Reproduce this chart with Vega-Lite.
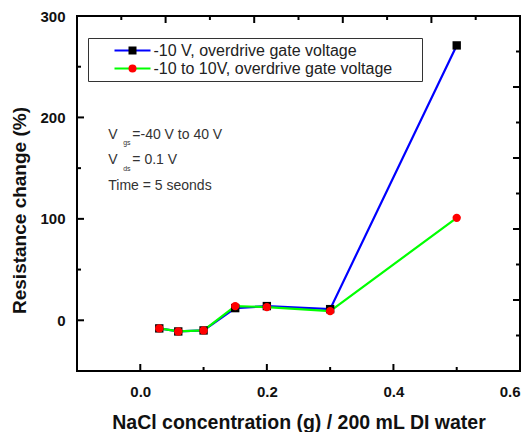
{
  "$schema": "https://vega.github.io/schema/vega-lite/v6.json",
  "width": 443,
  "height": 355,
  "autosize": "none",
  "padding": {"left": 77, "top": 16, "right": 12, "bottom": 61},
  "background": "white",
  "config": {
    "view": {"stroke": "#000000", "strokeWidth": 2},
    "font": "Liberation Sans",
    "axis": {
      "domain": false,
      "grid": false,
      "ticks": false,
      "labelFont": "Liberation Sans",
      "labelFontWeight": "bold",
      "labelFontSize": 15,
      "labelColor": "#111111",
      "titleFont": "Liberation Sans",
      "titleFontWeight": "bold",
      "titleColor": "#111111"
    }
  },
  "datasets": {
    "measurements": [
      {"series": "-10 V, overdrive gate voltage", "conc": 0.03, "change": -8},
      {"series": "-10 V, overdrive gate voltage", "conc": 0.06, "change": -11},
      {"series": "-10 V, overdrive gate voltage", "conc": 0.1, "change": -10},
      {"series": "-10 V, overdrive gate voltage", "conc": 0.15, "change": 12},
      {"series": "-10 V, overdrive gate voltage", "conc": 0.2, "change": 14},
      {"series": "-10 V, overdrive gate voltage", "conc": 0.3, "change": 11},
      {"series": "-10 V, overdrive gate voltage", "conc": 0.5, "change": 271},
      {"series": "-10 to 10V, overdrive gate voltage", "conc": 0.03, "change": -8},
      {"series": "-10 to 10V, overdrive gate voltage", "conc": 0.06, "change": -11},
      {"series": "-10 to 10V, overdrive gate voltage", "conc": 0.1, "change": -10},
      {"series": "-10 to 10V, overdrive gate voltage", "conc": 0.15, "change": 14},
      {"series": "-10 to 10V, overdrive gate voltage", "conc": 0.2, "change": 13},
      {"series": "-10 to 10V, overdrive gate voltage", "conc": 0.3, "change": 9},
      {"series": "-10 to 10V, overdrive gate voltage", "conc": 0.5, "change": 101}
    ],
    "ticks_bottom_major": [{"v": 0}, {"v": 0.2}, {"v": 0.4}],
    "ticks_bottom_minor": [{"v": 0.1}, {"v": 0.3}, {"v": 0.5}],
    "ticks_top_major": [{"v": 0.04}, {"v": 0.18}, {"v": 0.32}, {"v": 0.46}],
    "ticks_top_minor": [{"v": -0.03}, {"v": 0.11}, {"v": 0.25}, {"v": 0.39}, {"v": 0.53}],
    "ticks_left_major": [{"v": 0}, {"v": 100}, {"v": 200}],
    "ticks_left_minor": [{"v": 50}, {"v": 150}, {"v": 250}],
    "ticks_right_major": [{"v": 20}, {"v": 90}, {"v": 160}, {"v": 230}],
    "ticks_right_minor": [{"v": -15}, {"v": 55}, {"v": 125}, {"v": 195}, {"v": 265}]
  },
  "resolve": {"axis": {"x": "independent", "y": "independent"}},
  "layer": [
    {
      "data": {"name": "measurements"},
      "mark": {"type": "line", "strokeWidth": 2.2},
      "encoding": {
        "x": {
          "field": "conc", "type": "quantitative",
          "scale": {"domain": [-0.1, 0.6], "nice": false, "zero": false},
          "axis": {
            "orient": "bottom", "values": [0, 0.2, 0.4, 0.6], "format": ".1f",
            "labelPadding": 13,
            "title": "NaCl concentration (g) / 200 mL DI water",
            "titleFontSize": 19.5,
            "titleBaseline": "alphabetic", "titleY": 57
          }
        },
        "y": {
          "field": "change", "type": "quantitative",
          "scale": {"domain": [-50, 300], "nice": false, "zero": false},
          "axis": {
            "orient": "left", "values": [0, 100, 200, 300], "format": "d",
            "labelPadding": 12,
            "title": "Resistance change (%)",
            "titleFontSize": 19,
            "titleAngle": 270, "titleAlign": "center", "titleBaseline": "middle",
            "titleX": -58, "titleY": 194
          }
        },
        "stroke": {
          "field": "series", "type": "nominal",
          "scale": {"range": ["#0000ff", "#00ff00"]},
          "legend": {
            "orient": "none", "legendX": 11, "legendY": 22,
            "title": " ", "titleOrient": "right", "titlePadding": 25, "titleColor": "transparent",
            "padding": 4.5,
            "strokeColor": "#333333",
            "symbolType": "M-4.5,0H4.5", "symbolSize": 64, "symbolStrokeWidth": 2,
            "symbolOffset": 32, "labelOffset": 13,
            "rowPadding": 2,
            "labelFont": "Liberation Sans", "labelFontSize": 16, "labelColor": "#222222",
            "labelLimit": 400
          }
        }
      }
    },
    {
      "data": {"name": "measurements"},
      "mark": {"type": "point", "filled": true, "opacity": 1, "strokeWidth": 0, "size": 70},
      "encoding": {
        "x": {"field": "conc", "type": "quantitative", "axis": null},
        "y": {"field": "change", "type": "quantitative", "axis": null},
        "fill": {
          "field": "series", "type": "nominal",
          "scale": {"domain": ["-10 V, overdrive gate voltage", "-10 to 10V, overdrive gate voltage"], "range": ["#000000", "#ff0000"]},
          "legend": {
            "orient": "none", "legendX": 11, "legendY": 22,
            "title": null, "padding": 4.5,
            "symbolSize": 64, "symbolStrokeWidth": 0, "symbolOffset": 32,
            "rowPadding": 2,
            "labelFontSize": 16, "labelColor": "transparent"
          }
        },
        "shape": {
          "field": "series", "type": "nominal",
          "scale": {"domain": ["-10 V, overdrive gate voltage", "-10 to 10V, overdrive gate voltage"], "range": ["square", "circle"]},
          "legend": {
            "orient": "none", "legendX": 11, "legendY": 22,
            "title": null, "padding": 4.5,
            "symbolSize": 64, "symbolStrokeWidth": 0, "symbolOffset": 32,
            "rowPadding": 2,
            "labelFontSize": 16, "labelColor": "transparent"
          }
        }
      }
    },
    {
      "data": {"name": "ticks_bottom_major"},
      "mark": {"type": "tick", "orient": "vertical", "size": 14, "thickness": 2, "color": "#000000", "opacity": 1, "clip": true},
      "encoding": {
        "x": {"field": "v", "type": "quantitative", "axis": null},
        "y": {"datum": -50, "type": "quantitative", "axis": null}
      }
    },
    {
      "data": {"name": "ticks_bottom_minor"},
      "mark": {"type": "tick", "orient": "vertical", "size": 8, "thickness": 2, "color": "#000000", "opacity": 1, "clip": true},
      "encoding": {
        "x": {"field": "v", "type": "quantitative", "axis": null},
        "y": {"datum": -50, "type": "quantitative", "axis": null}
      }
    },
    {
      "data": {"name": "ticks_top_major"},
      "mark": {"type": "tick", "orient": "vertical", "size": 7, "thickness": 2, "color": "#000000", "opacity": 1},
      "encoding": {
        "x": {"field": "v", "type": "quantitative", "axis": null},
        "y": {"datum": 296.55, "type": "quantitative", "axis": null}
      }
    },
    {
      "data": {"name": "ticks_top_minor"},
      "mark": {"type": "tick", "orient": "vertical", "size": 4, "thickness": 2, "color": "#000000", "opacity": 1},
      "encoding": {
        "x": {"field": "v", "type": "quantitative", "axis": null},
        "y": {"datum": 298.03, "type": "quantitative", "axis": null}
      }
    },
    {
      "data": {"name": "ticks_left_major"},
      "mark": {"type": "tick", "orient": "horizontal", "size": 14, "thickness": 2, "color": "#000000", "opacity": 1, "clip": true},
      "encoding": {
        "y": {"field": "v", "type": "quantitative", "axis": null},
        "x": {"datum": -0.1, "type": "quantitative", "axis": null}
      }
    },
    {
      "data": {"name": "ticks_left_minor"},
      "mark": {"type": "tick", "orient": "horizontal", "size": 8, "thickness": 2, "color": "#000000", "opacity": 1, "clip": true},
      "encoding": {
        "y": {"field": "v", "type": "quantitative", "axis": null},
        "x": {"datum": -0.1, "type": "quantitative", "axis": null}
      }
    },
    {
      "data": {"name": "ticks_right_major"},
      "mark": {"type": "tick", "orient": "horizontal", "size": 14, "thickness": 2, "color": "#000000", "opacity": 1, "clip": true},
      "encoding": {
        "y": {"field": "v", "type": "quantitative", "axis": null},
        "x": {"datum": 0.6, "type": "quantitative", "axis": null}
      }
    },
    {
      "data": {"name": "ticks_right_minor"},
      "mark": {"type": "tick", "orient": "horizontal", "size": 8, "thickness": 2, "color": "#000000", "opacity": 1, "clip": true},
      "encoding": {
        "y": {"field": "v", "type": "quantitative", "axis": null},
        "x": {"datum": 0.6, "type": "quantitative", "axis": null}
      }
    },
    {
      "data": {"values": [{}]},
      "mark": {"type": "text", "align": "left", "baseline": "alphabetic", "fontSize": 14, "lineHeight": 25.5, "color": "#333333"},
      "encoding": {
        "x": {"datum": -0.0506, "type": "quantitative", "axis": null},
        "y": {"datum": 179, "type": "quantitative", "axis": null},
        "text": {"value": ["V", "V", "Time = 5 seonds"]}
      }
    },
    {
      "data": {"values": [{}]},
      "mark": {"type": "text", "align": "left", "baseline": "alphabetic", "fontSize": 14, "lineHeight": 25.5, "color": "#333333"},
      "encoding": {
        "x": {"datum": -0.0126, "type": "quantitative", "axis": null},
        "y": {"datum": 179, "type": "quantitative", "axis": null},
        "text": {"value": ["=-40 V to 40 V", "= 0.1 V"]}
      }
    },
    {
      "data": {"values": [{}]},
      "mark": {"type": "text", "align": "left", "baseline": "alphabetic", "fontSize": 7, "lineHeight": 25.5, "color": "#333333"},
      "encoding": {
        "x": {"datum": -0.027, "type": "quantitative", "axis": null},
        "y": {"datum": 172.5, "type": "quantitative", "axis": null},
        "text": {"value": ["gs", "ds"]}
      }
    }
  ]
}
